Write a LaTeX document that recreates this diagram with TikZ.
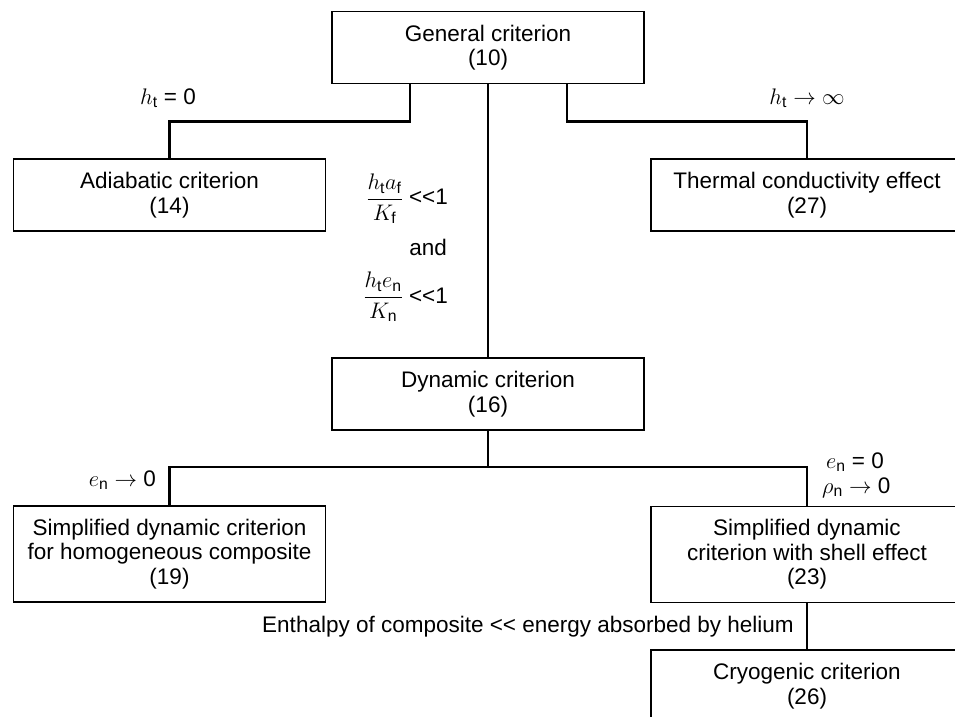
\RequirePackage{fix-cm}
\documentclass[tikz,border=0pt]{standalone}
\usepackage{amsmath}
\usepackage{fontspec}
\setmainfont[Ligatures=NoCommon]{Liberation Sans}
\newcommand{\sub}[1]{\text{#1}}
\newcommand{\mlt}{<\kern0pt<}
\begin{document}
\begin{tikzpicture}[x=1pt,y=-1pt,
  box/.style={draw, line width=1.2pt, minimum width=312pt, minimum height=72pt, align=center, inner sep=2pt,
    font=\fontsize{22.5}{24.5}\selectfont},
  tallbox/.style={box, minimum height=96pt},
  conn/.style={line width=2.6pt, line join=miter},
  lbl/.style={inner sep=0pt, font=\fontsize{22.5}{24.5}\selectfont}]
\useasboundingbox (0,0) rectangle (955,716);
\clip (0,0) rectangle (955,716);
\node[box] (gen) at (488,47.5) {General criterion\\(10)};
\node[box] (adi) at (169.5,195) {Adiabatic criterion\\(14)};
\node[box] (the) at (807,195) {Thermal conductivity effect\\(27)};
\node[box] (dyn) at (488,394) {Dynamic criterion\\(16)};
\node[tallbox] (hom) at (169.5,554) {Simplified dynamic criterion\\for homogeneous composite\\(19)};
\node[tallbox] (shl) at (807,554.5) {Simplified dynamic\\criterion with shell effect\\(23)};
\node[box] (cry) at (807,686) {Cryogenic criterion\\(26)};
\coordinate (split) at (488,467);
\draw[conn] ([xshift=-78pt]gen.south) |- ([yshift=37pt]adi.north) -- (adi.north);
\draw[conn] ([xshift=79pt]gen.south) |- ([yshift=37pt]the.north) -- (the.north);
\draw[conn] (gen.south) -- (dyn.north);
\draw[conn] (dyn.south) -- (split);
\draw[conn] (hom.north) |- (split) -| (shl.north);
\draw[conn] (shl.south) -- (cry.north);
\node[lbl] (l1) at (168,98) {$h_{\sub{t}}$ = 0};
\node[lbl] (l2) at (807,98) {$h_{\sub{t}}\to\infty$};
\node[lbl, anchor=east] (f1) at (448,199) {$\dfrac{h_{\sub{t}}a_{\sub{f}}}{K_{\sub{f}}}$ \mlt1};
\node[lbl, anchor=east] (and) at (447,247) {and};
\node[lbl, anchor=east] (f2) at (448,297) {$\dfrac{h_{\sub{t}}e_{\sub{n}}}{K_{\sub{n}}}$ \mlt1};
\node[lbl, anchor=east] (l3) at (156,480) {$e_{\sub{n}}\to{}$0};
\node[lbl, anchor=base west] (l4) at (826,468) {$e_{\sub{n}}$ = 0};
\node[lbl, anchor=base west] (l4b) at (822,493) {$\rho_{\sub{n}}\to{}$0};
\node[lbl, anchor=east] (l5) at (794,627) {Enthalpy of composite \mlt{} energy absorbed by helium};
\end{tikzpicture}
\end{document}
